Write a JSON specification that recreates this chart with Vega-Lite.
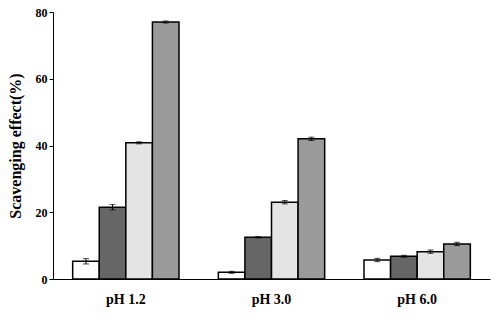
{
  "$schema": "https://vega.github.io/schema/vega-lite/v6.json",
  "width": 437,
  "height": 267,
  "autosize": {"type": "none"},
  "padding": {"left": 53, "top": 12, "right": 5, "bottom": 41},
  "background": "white",
  "config": {
    "view": {"stroke": null},
    "font": "Liberation Serif",
    "axis": {"labelFont": "Liberation Serif", "titleFont": "Liberation Serif", "labelFontWeight": "bold", "titleFontWeight": "bold", "labelColor": "black", "titleColor": "black", "domainColor": "black", "tickColor": "black", "grid": false}
  },
  "data": {
    "values": [
      {"ph": "pH 1.2", "s": "A", "v": 5.3, "e": 0.8},
      {"ph": "pH 1.2", "s": "B", "v": 21.5, "e": 0.8},
      {"ph": "pH 1.2", "s": "C", "v": 40.8, "e": 0.3},
      {"ph": "pH 1.2", "s": "D", "v": 77.0, "e": 0.3},
      {"ph": "pH 3.0", "s": "A", "v": 2.0, "e": 0.3},
      {"ph": "pH 3.0", "s": "B", "v": 12.5, "e": 0.2},
      {"ph": "pH 3.0", "s": "C", "v": 23.0, "e": 0.5},
      {"ph": "pH 3.0", "s": "D", "v": 42.0, "e": 0.5},
      {"ph": "pH 6.0", "s": "A", "v": 5.7, "e": 0.5},
      {"ph": "pH 6.0", "s": "B", "v": 6.8, "e": 0.3},
      {"ph": "pH 6.0", "s": "C", "v": 8.2, "e": 0.5},
      {"ph": "pH 6.0", "s": "D", "v": 10.5, "e": 0.5}
    ]
  },
  "encoding": {
    "x": {"field": "ph", "type": "nominal", "scale": {"paddingInner": 0, "paddingOuter": 0},
      "axis": {"title": null, "labelAngle": 0, "ticks": false, "labelPadding": 13, "labelFontSize": 14, "domainWidth": 1}},
    "xOffset": {"field": "s", "type": "nominal", "scale": {"paddingInner": 0, "paddingOuter": 0.74}},
    "y": {"field": "v", "type": "quantitative", "scale": {"domain": [0, 80]},
      "axis": {"title": "Scavenging effect(%)", "titleFontSize": 16, "titlePadding": 12, "labelFontSize": 12, "values": [0, 20, 40, 60, 80], "tickSize": 4, "domainWidth": 1}}
  },
  "layer": [
    {
      "mark": {"type": "bar", "stroke": "black", "strokeWidth": 1.5},
      "encoding": {
        "fill": {"field": "s", "type": "nominal", "legend": null,
          "scale": {"domain": ["A", "B", "C", "D"], "range": ["#ffffff", "#666666", "#e4e4e4", "#9a9a9a"]}}
      }
    },
    {
      "mark": {"type": "errorbar", "ticks": {"size": 6, "color": "black"}, "color": "black"},
      "encoding": {
        "yError": {"field": "e"}
      }
    }
  ]
}
